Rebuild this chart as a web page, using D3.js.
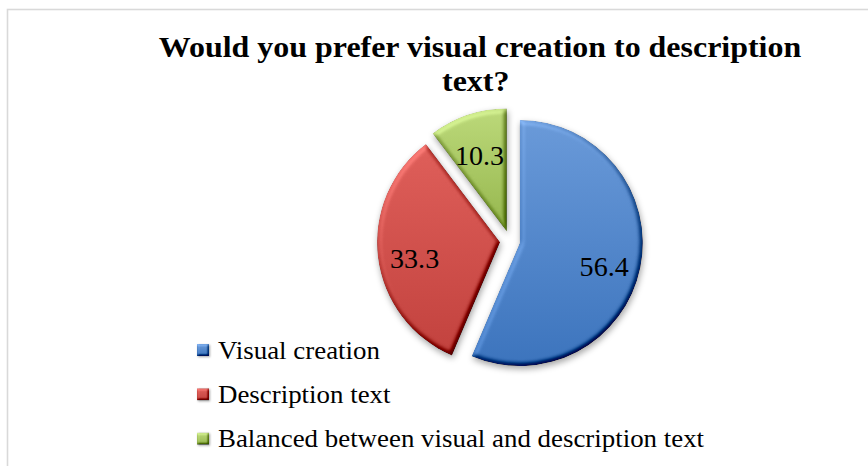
<!DOCTYPE html>
<html>
<head>
<meta charset="utf-8">
<script src="https://cdn.jsdelivr.net/npm/d3@7/dist/d3.min.js"></script>
<style>
  html, body { margin: 0; padding: 0; background: #fff; }
  svg { display: block; }
</style>
</head>
<body>
<svg id="chart" width="868" height="466"></svg>
<script>
// Survey answers (percent)
const categories = ["Visual creation", "Description text", "Balanced between visual and description text"];
const values = [56.4, 33.3, 10.3];
const labels = ["56.4", "33.3", "10.3"];
const titleLines = ["Would you prefer visual creation to description", "text?"];

// Fill colours: light (top) to dark (bottom) per slice
const colorsLight = ["#6a9ad9", "#df5f5a", "#bcd97a"];
const colorsDark  = ["#3c74bd", "#c2423e", "#95b64d"];

const W = 868, H = 466;
const cx = 510, cy = 241, R = 123, explode = 10;
const serif = "Liberation Serif, Times New Roman, serif";

const svg = d3.select("#chart");
const defs = svg.append("defs");

// Gradients for the slice fills
categories.forEach((c, i) => {
  const g = defs.append("linearGradient")
    .attr("id", "grad" + i)
    .attr("x1", 0).attr("y1", 0).attr("x2", 0).attr("y2", 1);
  g.append("stop").attr("offset", "0%").attr("stop-color", colorsLight[i]);
  g.append("stop").attr("offset", "100%").attr("stop-color", colorsDark[i]);
});

// Bevel + drop shadow filter
function addBevel(id, blur, scale, shadowBlur, dy) {
  const f = defs.append("filter").attr("id", id)
    .attr("x", "-20%").attr("y", "-20%").attr("width", "140%").attr("height", "150%")
    .attr("color-interpolation-filters", "sRGB");
  f.append("feGaussianBlur").attr("in", "SourceAlpha").attr("stdDeviation", blur).attr("result", "blur");
  const dl = f.append("feDiffuseLighting").attr("in", "blur").attr("surfaceScale", scale)
    .attr("diffuseConstant", 1).attr("lighting-color", "#fff").attr("result", "light");
  dl.append("feDistantLight").attr("azimuth", 235).attr("elevation", 55);
  f.append("feComposite").attr("in", "SourceGraphic").attr("in2", "light")
    .attr("operator", "arithmetic").attr("k1", 0).attr("k2", 1).attr("k3", 0.6).attr("k4", -0.6 * Math.sin(55 * Math.PI / 180))
    .attr("result", "lit");
  f.append("feComposite").attr("in", "lit").attr("in2", "SourceAlpha").attr("operator", "in").attr("result", "bev");
  f.append("feGaussianBlur").attr("in", "SourceAlpha").attr("stdDeviation", shadowBlur).attr("result", "sb");
  f.append("feOffset").attr("in", "sb").attr("dx", 1).attr("dy", dy).attr("result", "so");
  f.append("feFlood").attr("flood-color", "#000").attr("flood-opacity", 0.35).attr("result", "fl");
  f.append("feComposite").attr("in", "fl").attr("in2", "so").attr("operator", "in").attr("result", "shadow");
  const m = f.append("feMerge");
  m.append("feMergeNode").attr("in", "shadow");
  m.append("feMergeNode").attr("in", "bev");
}
addBevel("bevel", 2.5, 4, 3, 3);
addBevel("bevelSmall", 1, 2, 0.8, 1);

// Background and chart-area border
svg.append("rect").attr("width", W).attr("height", H).attr("fill", "#fff");
svg.append("rect")
  .attr("x", 7.5).attr("y", 9.5).attr("width", W + 20).attr("height", H + 20)
  .attr("fill", "none").attr("stroke", "#d9d9d9").attr("stroke-width", 1.6);

// Title (slightly widened serif face)
const titleX = 480;
const title = svg.append("g")
  .attr("transform", `translate(${titleX},57) scale(1.065,1)`)
  .append("text")
  .attr("text-anchor", "middle")
  .attr("font-family", serif).attr("font-weight", "bold").attr("font-size", 30)
  .attr("fill", "#000");
titleLines.forEach((t, i) => {
  title.append("tspan").attr("x", i === 0 ? 0 : -4).attr("dy", i === 0 ? 0 : 34).text(t);
});

// Pie
const pie = d3.pie().sort(null).value(d => d)(values);
const arc = d3.arc().innerRadius(0).outerRadius(R);
const labelArc = d3.arc().innerRadius(R * 0.7).outerRadius(R * 0.7);

const slices = svg.append("g").attr("transform", `translate(${cx},${cy})`)
  .selectAll("g.slice").data(pie).join("g")
  .attr("class", "slice")
  .attr("transform", d => {
    const a = (d.startAngle + d.endAngle) / 2;
    return `translate(${explode * Math.sin(a)},${-explode * Math.cos(a)})`;
  });

slices.append("path")
  .attr("d", arc)
  .attr("fill", (d, i) => `url(#grad${i})`)
  .attr("filter", "url(#bevel)");

slices.append("text")
  .attr("transform", d => {
    const [x, y] = labelArc.centroid(d);
    return `translate(${x},${y + 6}) scale(1.04,1)`;
  })
  .attr("text-anchor", "middle")
  .attr("dominant-baseline", "central")
  .attr("font-family", serif).attr("font-size", 27)
  .attr("fill", "#000")
  .text((d, i) => labels[i]);

// Legend
const legend = svg.append("g").attr("transform", "translate(197,350)")
  .selectAll("g").data(categories).join("g")
  .attr("transform", (d, i) => `translate(0,${i * 44.3})`);

legend.append("rect")
  .attr("x", 0).attr("y", -6).attr("width", 12).attr("height", 12)
  .attr("fill", (d, i) => `url(#grad${i})`)
  .attr("filter", "url(#bevelSmall)");

legend.append("text")
  .attr("transform", "translate(21,0) scale(1.035,1)")
  .attr("dominant-baseline", "central")
  .attr("font-family", serif).attr("font-size", 26)
  .attr("fill", "#000")
  .text(d => d);
</script>
</body>
</html>
